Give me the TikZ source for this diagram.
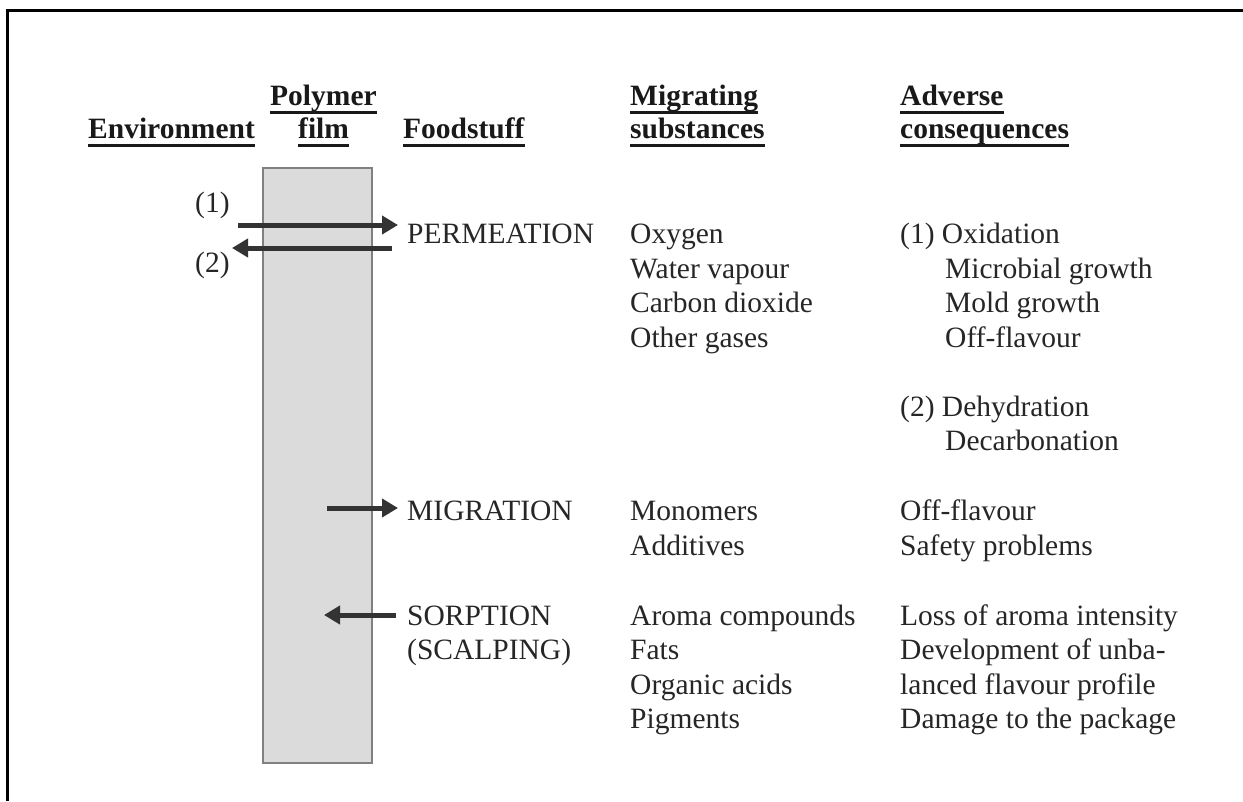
\documentclass[tikz,border=0pt]{standalone}
\usepackage{fontspec}
\setmainfont{Liberation Serif}
\usetikzlibrary{arrows.meta}
\tikzset{
  txt/.style={anchor=base west,inner sep=0pt,font=\fontsize{29.5}{34.5}\selectfont,text=black!85},
  hdr/.style={anchor=base west,inner sep=0pt,font=\fontsize{29.5}{34.5}\selectfont\bfseries,text=black!90},
  uline/.style={line width=3pt,draw=black!90},
  flow/.style={line width=5pt,draw=black!80,-{Triangle[length=16pt,width=18pt]}},
  filmbox/.style={draw=black!50,fill=black!14,line width=2pt},
  frame/.style={line width=3pt,draw=black}
}
\begin{document}
\begin{tikzpicture}[x=1pt,y=-1pt]
\useasboundingbox (0,0) rectangle (1243,801);
% open frame
\coordinate (fbl) at (7,801);
\coordinate (ftl) at (7,10);
\coordinate (ftr) at (1243,10);
\draw[frame] (fbl) -- (ftl) -- (ftr);

% polymer film
\node[filmbox,minimum width=109pt,minimum height=595pt,inner sep=0pt] (film) at (317.5,465.5) {};

% headers
\node[hdr] (env) at (88,138) {Environment};
\node[hdr] (poly1) at (270,105) {Polymer};
\node[hdr] (poly2) at (298,138) {film};
\node[hdr] (food) at (403,138) {Foodstuff};
\node[hdr] (mig1) at (630,105) {Migrating};
\node[hdr] (mig2) at (630,138) {substances};
\node[hdr] (adv1) at (900,105) {Adverse};
\node[hdr] (adv2) at (900,138) {consequences};
\foreach \h in {env,poly1,poly2,food,mig1,mig2,adv1,adv2}{
  \draw[uline] ([yshift=-7pt]\h.base west) -- ([yshift=-7pt]\h.base east);
}

% permeation
\node[txt] (l1) at (195,212) {(1)};
\node[txt] (l2) at (195,272) {(2)};
\node[txt] (perm) at (407,243) {PERMEATION};
\coordinate (p1s) at (238,225);
\coordinate (p1e) at (398,225);
\coordinate (p2s) at (392,248);
\coordinate (p2e) at (232,248);
\draw[flow] (p1s) -- (p1e);
\draw[flow] (p2s) -- (p2e);

\node[txt] (s1) at (630,243) {Oxygen};
\node[txt] (s2) at (630,278) {Water vapour};
\node[txt] (s3) at (630,312) {Carbon dioxide};
\node[txt] (s4) at (630,347) {Other gases};

\node[txt] (c1) at (900,243) {(1) Oxidation};
\node[txt] (c2) at (945,278) {Microbial growth};
\node[txt] (c3) at (945,312) {Mold growth};
\node[txt] (c4) at (945,347) {Off-flavour};
\node[txt] (c5) at (900,416) {(2) Dehydration};
\node[txt] (c6) at (945,450) {Decarbonation};

% migration
\node[txt] (migr) at (407,520) {MIGRATION};
\coordinate (m1s) at (327,508);
\coordinate (m1e) at (398,508);
\draw[flow] (m1s) -- (m1e);
\node[txt] (s5) at (630,520) {Monomers};
\node[txt] (s6) at (630,555) {Additives};
\node[txt] (c7) at (900,520) {Off-flavour};
\node[txt] (c8) at (900,555) {Safety problems};

% sorption
\node[txt] (sorp) at (407,625) {SORPTION};
\node[txt] (scalp) at (407,659) {(SCALPING)};
\coordinate (r1s) at (396,615);
\coordinate (r1e) at (324,615);
\draw[flow] (r1s) -- (r1e);
\node[txt] (s7) at (630,625) {Aroma compounds};
\node[txt] (s8) at (630,659) {Fats};
\node[txt] (s9) at (630,694) {Organic acids};
\node[txt] (s10) at (630,728) {Pigments};
\node[txt] (c9) at (900,625) {Loss of aroma intensity};
\node[txt] (c10) at (900,659) {Development of unba-};
\node[txt] (c11) at (900,694) {lanced flavour profile};
\node[txt] (c12) at (900,728) {Damage to the package};
\end{tikzpicture}
\end{document}
